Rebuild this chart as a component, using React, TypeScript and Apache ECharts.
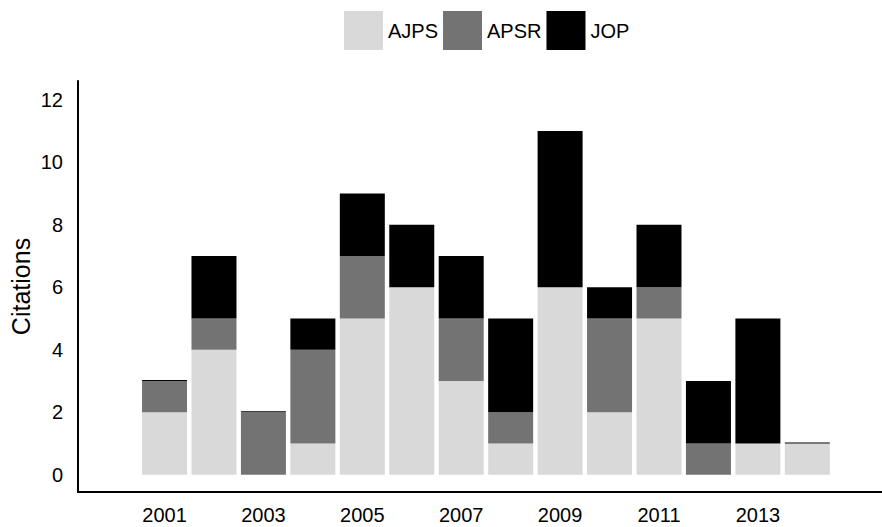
import React, { useEffect, useRef } from "react";
import * as echarts from "echarts";

const years = [2001, 2002, 2003, 2004, 2005, 2006, 2007, 2008, 2009, 2010, 2011, 2012, 2013, 2014];
const ajps = [2, 4, 0, 1, 5, 6, 3, 1, 6, 2, 5, 0, 1, 1];
const apsr = [1, 1, 2, 3, 2, 0, 2, 1, 0, 3, 1, 1, 0, 0];
const jop = [0, 2, 0, 1, 2, 2, 2, 3, 5, 1, 2, 2, 4, 0];
const xTickLabels = [2001, 2003, 2005, 2007, 2009, 2011, 2013];
const yTickLabels = [0, 2, 4, 6, 8, 10, 12];
const seriesNames = ["AJPS", "APSR", "JOP"];
const seriesColors = ["#d9d9d9", "#737373", "#000000"];

const FONT = "Liberation Sans, Arial, sans-serif";

export default function App() {
  const ref = useRef<HTMLDivElement>(null);
  useEffect(() => {
    if (!ref.current) return;
    const chart = echarts.init(ref.current, undefined, { renderer: "svg" });
    const values = [ajps, apsr, jop];
    chart.setOption({
      animation: false,
      backgroundColor: "#ffffff",
      textStyle: { fontFamily: FONT },
      legend: {
        left: 344,
        top: 11,
        padding: 0,
        itemWidth: 39,
        itemHeight: 39,
        itemGap: 5,
        icon: "rect",
        textStyle: { fontSize: 20, color: "#000", fontFamily: FONT },
        data: seriesNames,
      },
      grid: { left: 78, right: 0, top: 81, bottom: 35, containLabel: false, outerBoundsMode: "none" },
      xAxis: {
        type: "value",
        min: 1999.25,
        max: 2015.51,
        splitLine: { show: false },
        axisTick: { show: false },
        axisLine: { show: true, onZero: false, lineStyle: { color: "#000", width: 2 } },
        axisLabel: {
          customValues: xTickLabels,
          fontSize: 20,
          color: "#000",
          fontFamily: FONT,
          margin: 13,
          formatter: (v: number) => String(v),
        },
      },
      yAxis: {
        type: "value",
        min: -0.55,
        max: 12.6,
        name: "Citations",
        nameLocation: "middle",
        nameGap: 45,
        nameMoveOverlap: false,
        nameRotate: 90,
        nameTextStyle: { fontSize: 25, color: "#000", fontFamily: FONT },
        splitLine: { show: false },
        axisTick: { show: false },
        axisLine: { show: true, onZero: false, lineStyle: { color: "#000", width: 2 } },
        axisLabel: {
          customValues: yTickLabels,
          fontSize: 20,
          color: "#000",
          fontFamily: FONT,
          margin: 15,
          formatter: (v: number) => String(v),
        },
      },
      series: seriesNames.map((name, i) => ({
        name,
        type: "bar",
        stack: "total",
        barWidth: 45,
        barMinHeight: i === 2 ? 1 : 0,
        itemStyle: { color: seriesColors[i] },
        encode: { x: 1, y: 0 },
        data: years.map((y, k) => [values[i][k], y]),
      })),
    });
    return () => chart.dispose();
  }, []);
  return (
    <div
      ref={ref}
      style={{ position: "fixed", left: 0, top: 0, width: 882, height: 527 }}
    />
  );
}
